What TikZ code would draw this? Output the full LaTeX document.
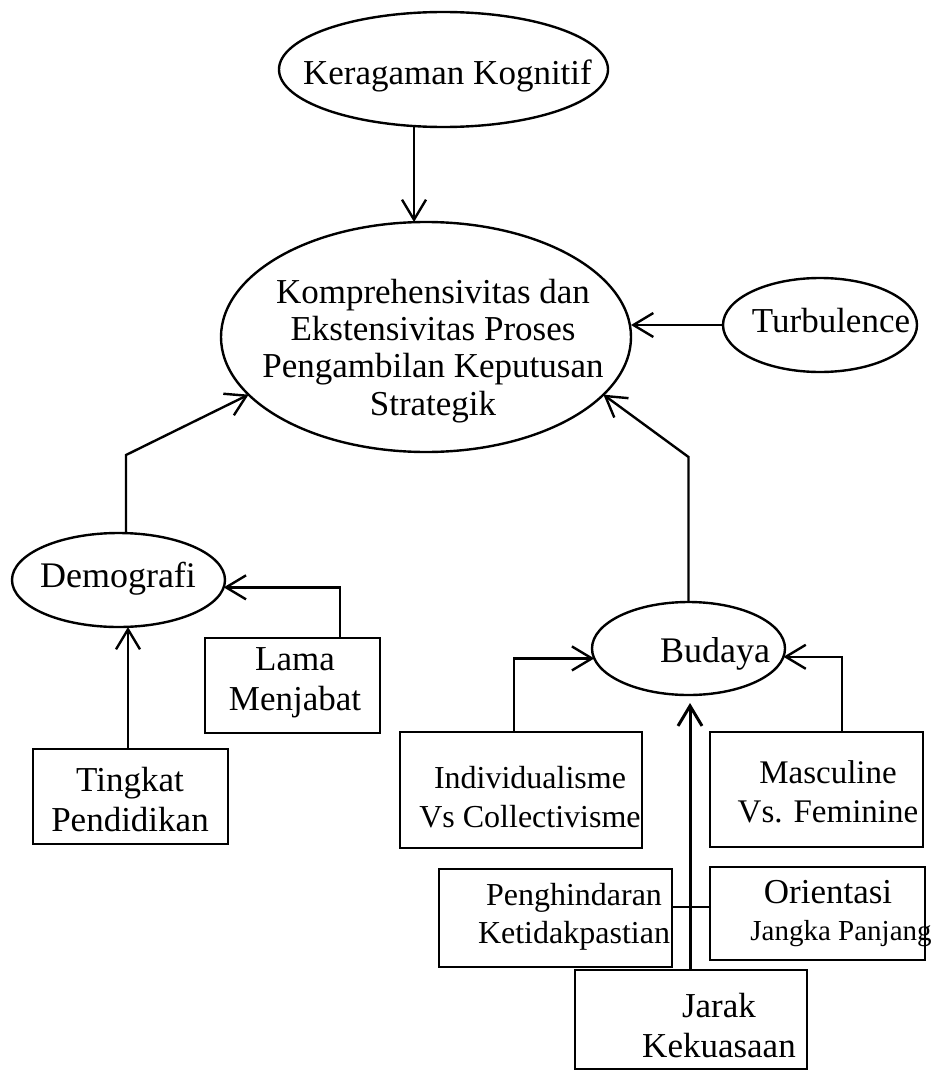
\documentclass[tikz,border=0pt]{standalone}
\usepackage{fontspec}
\setmainfont{Liberation Serif}
\usetikzlibrary{arrows.meta,shapes.geometric}

% centred multi-line text whose reference point is the first baseline
\newcommand\nodetext[3]{{\fontsize{#1}{#2}\selectfont\setlength\tabcolsep{0pt}\begin{tabular}[t]{c}#3\end{tabular}}}

\tikzset{
  shapeline/.style={draw, line width=1.2pt},
  oval/.style={shapeline, ellipse, inner sep=0pt, outer sep=0pt},
  box/.style={shapeline, rectangle, inner sep=0pt, outer sep=0pt},
  caption/.style={inner sep=0pt, anchor=base},
  link/.style={line width=1.2pt},
  arr/.style={link, -{Straight Barb[length=10pt,width=12pt]}},
}

\begin{document}
\begin{tikzpicture}[x=0.5pt,y=-0.5pt]
\useasboundingbox (0,0) rectangle (938,1070);

% ellipses
\node[oval, minimum width=164.5pt, minimum height=57.5pt] (ker) at (443.5,69.5) {};
\node[caption] (ker-t) at (447.5,85) {\nodetext{17.5}{18.7}{Keragaman Kognitif}};

\node[oval, minimum width=205pt, minimum height=115pt] (main) at (426,337) {};
\node[caption] (main-t) at (433,303) {\nodetext{17.5}{18.7}{Komprehensivitas dan\\Ekstensivitas Proses\\Pengambilan Keputusan\\Strategik}};

\node[oval, minimum width=97pt, minimum height=47pt] (turb) at (820,325) {};
\node[caption] (turb-t) at (831,332) {\nodetext{17.5}{18.7}{Turbulence}};

\node[oval, minimum width=106.5pt, minimum height=47pt] (demo) at (118.5,580) {};
\node[caption] (demo-t) at (118,587) {\nodetext{18}{18.7}{Demografi}};

\node[oval, minimum width=96.5pt, minimum height=46.5pt] (bud) at (688.5,648.5) {};
\node[caption] (bud-t) at (715,662) {\nodetext{18}{18.7}{Budaya}};

% boxes
\node[box, minimum width=87.5pt, minimum height=47.5pt] (lama) at (292.5,685.5) {};
\node[caption] (lama-t) at (295,670) {\nodetext{17.5}{20}{Lama\\Menjabat}};

\node[box, minimum width=97.5pt, minimum height=47.5pt] (tp) at (130.5,796.5) {};
\node[caption] (tp-t) at (130,791) {\nodetext{17.5}{20}{Tingkat\\Pendidikan}};

\node[box, minimum width=121pt, minimum height=58pt] (ind) at (521,790) {};
\node[caption] (ind-t) at (530,788) {\nodetext{16}{19.5}{Individualisme\\Vs Collectivisme}};

\node[box, minimum width=106.5pt, minimum height=57.5pt] (mas) at (816.5,789.5) {};
\node[caption] (mas-t) at (828,783) {\nodetext{16.5}{19.5}{Masculine\\Vs. Feminine}};

\node[box, minimum width=116.5pt, minimum height=49pt] (pen) at (555.5,918) {};
\node[caption] (pen-t) at (574,905) {\nodetext{16}{19}{Penghindaran\\Ketidakpastian}};

\node[box, minimum width=107.5pt, minimum height=46.5pt] (ori) at (817.5,913.5) {};
\node[caption] (ori-t) at (841,903) {\nodetext{17.5}{18.5}{Orientasi\hspace*{13pt}\\{\fontsize{14.5}{18.5}\selectfont Jangka Panjang}}};

\node[box, minimum width=116pt, minimum height=49.5pt] (jar) at (691,1019.5) {};
\node[caption] (jar-t) at (719,1017) {\nodetext{17.5}{20}{Jarak\\Kekuasaan}};

% connectors
\draw[arr] ([shift={(-29.5,0)}]ker.south) -- ([shift={(-12,0)}]main.north);
\draw[arr] (turb.west) -- (turb.west -| main.east);
\draw[arr] ([shift={(7.5,0)}]demo.north) -- ++(0,-78) -- (main.198);
\draw[arr] (bud.north) -- ++(0,-145) -- (main.342);
\draw[arr] ([shift={(47.5,0)}]lama.north) |- (demo.356);
\draw[arr] ([shift={(-2.5,0)}]tp.north) -- ([shift={(9.5,0)}]demo.south);
\draw[arr] ([shift={(-7,0)}]ind.north) |- (bud.186);
\draw[arr] ([shift={(25.5,0)}]mas.north) |- (bud.355.5);
\draw[link] ([shift={(0,-11)}]pen.east) -- ([shift={(0,-6.5)}]ori.west);
\draw[arr, line width=1.5pt, shorten >=4pt] ([shift={(-1,0)}]jar.north) -- ([shift={(1.5,0)}]bud.south);
\end{tikzpicture}
\end{document}
